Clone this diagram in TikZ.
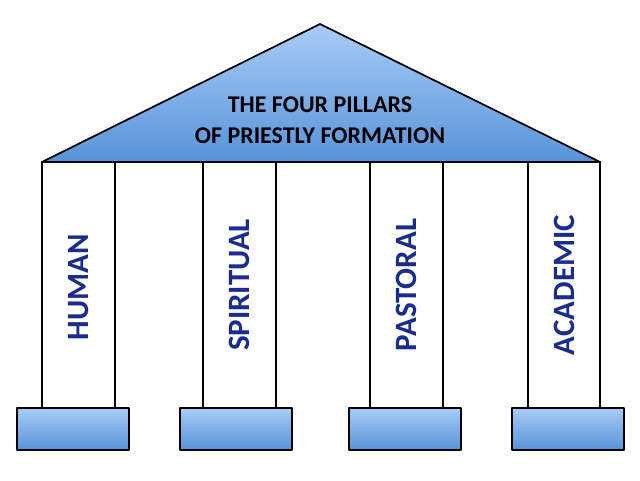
\documentclass[tikz,border=0pt]{standalone}
\usepackage{fontspec}
\setmainfont{Carlito}
\definecolor{skylight}{HTML}{A8CCF7}
\definecolor{skydark}{HTML}{5893D9}
\definecolor{pillarblue}{HTML}{1B2C8F}
\tikzset{
  stone/.style={draw=black, line width=1.7pt, line join=round,
    top color=skylight, bottom color=skydark},
  shaft/.style={draw=black, line width=1.6pt, fill=white},
  pillar/.style={rotate=90, inner sep=0pt, text=pillarblue,
    font=\bfseries\fontsize{31}{31}\selectfont},
}
\begin{document}
\begin{tikzpicture}[x=1pt,y=-1pt]  % ------ Temple -----------
    \useasboundingbox (0,0) rectangle (640,480);
    \coordinate (R1) at (42,162);
    \coordinate (R2) at (320,24);
    \coordinate (R3) at (600,162);

    % columns
    \draw[shaft] (42,162)  rectangle (115,408);
    \draw[shaft] (203,162) rectangle (276,408);
    \draw[shaft] (370,162) rectangle (443,408);
    \draw[shaft] (528,162) rectangle (600,408);

    % bases
    \draw[stone] (17,408)  rectangle (129,450);
    \draw[stone] (180,408) rectangle (292,450);
    \draw[stone] (349,408) rectangle (461,450);
    \draw[stone] (512,408) rectangle (624,450);

    % roof
    \draw[stone] (R1) -- (R2) -- (R3) -- cycle ;
    \node (title) [inner sep=0pt, align=center,
      font=\bfseries\fontsize{24}{31}\selectfont] at (320,120)
      {THE FOUR PILLARS\\OF PRIESTLY FORMATION};

    \node (human)     [pillar] at (78.5,287) {HUMAN};
    \node (spiritual) [pillar] at (239.5,285) {SPIRITUAL};
    \node (pastoral)  [pillar] at (406.5,285) {PASTORAL};
    \node (academic)  [pillar] at (564,285) {ACADEMIC};
\end{tikzpicture}
\end{document}
